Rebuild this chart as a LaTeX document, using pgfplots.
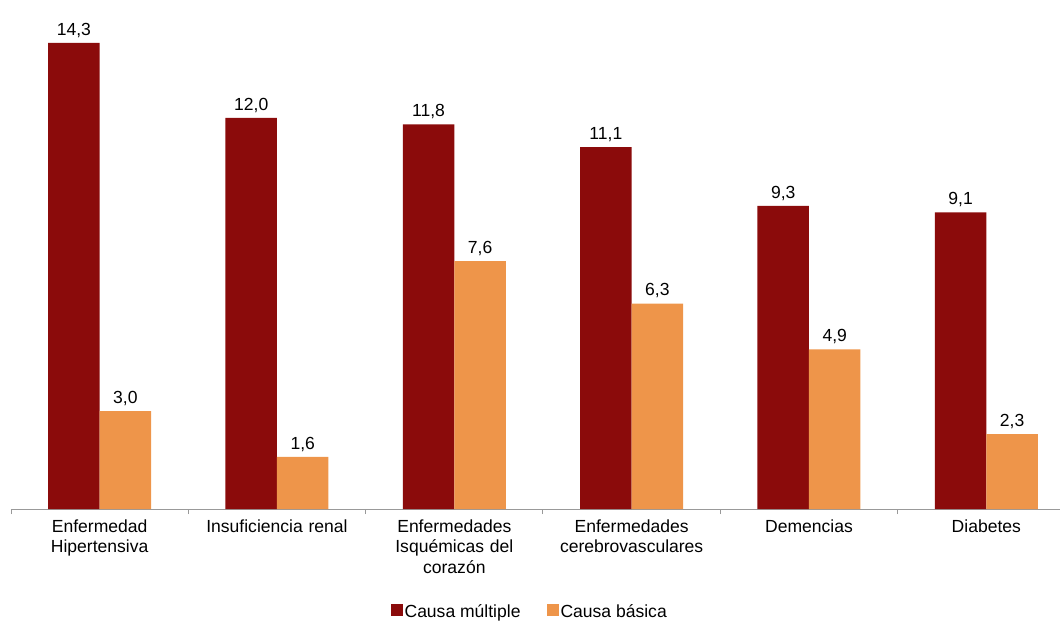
\documentclass[border=0pt]{standalone}
\usepackage{fontspec}
\setmainfont{Liberation Sans}
\usepackage{pgfplots}
\pgfplotsset{compat=1.18}
\definecolor{rojo}{RGB}{139,11,11}
\definecolor{naranja}{RGB}{238,149,74}
\newcommand{\lbl}{\fontsize{17.6}{20.5}\selectfont}
\begin{document}
\begin{tikzpicture}
\begin{axis}[
    scale only axis,
    width=1064bp, height=489bp,
    xmin=-0.5, xmax=5.5,
    ymin=0, ymax=15,
    axis y line=none,
    axis x line*=bottom,
    x axis line style={draw=gray!80, line width=1pt},
    xtick={0,...,5},
    xticklabels={Enfermedad\\Hipertensiva, Insuficiencia renal, Enfermedades\\Isquémicas del\\corazón, Enfermedades\\cerebrovasculares, Demencias, Diabetes},
    xticklabel style={font=\lbl, align=center, text width=175bp, yshift=-7bp},
    major tick length=0pt,
    tick style={draw=gray!80, line width=1pt},
    extra x ticks={-0.5,0.5,...,5.5},
    extra x tick labels={},
    extra x tick style={major tick length=5bp, tick align=outside},
    ybar, bar width=51.5bp,
    nodes near coords,
    nodes near coords style={font=\lbl, text=black, yshift=2bp},
    /pgf/number format/.cd, fixed, fixed zerofill, precision=1, use comma, assume math mode=true,
    /pgfplots/.cd,
    legend style={at={(0.4875,-0.19)}, anchor=north, draw=none, font=\lbl, legend columns=2,
      /tikz/every even column/.append style={column sep=24bp}, inner xsep=0pt, inner ysep=0pt},
    legend image code/.code={\fill[#1] (0bp,-5bp) rectangle (12bp,7bp);},
]
\addplot[fill=rojo, draw=none, bar shift=-25.75bp] coordinates {(0,14.3) (1,12.0) (2,11.8) (3,11.1) (4,9.3) (5,9.1)};
\addplot[fill=naranja, draw=none, bar shift=25.75bp] coordinates {(0,3.0) (1,1.6) (2,7.6) (3,6.3) (4,4.9) (5,2.3)};
\legend{Causa múltiple, Causa básica}
\end{axis}
\pgfresetboundingbox
\path (current axis.south west) ++(-11bp,-115bp) rectangle ++(1060bp,624bp);
\end{tikzpicture}
\end{document}
